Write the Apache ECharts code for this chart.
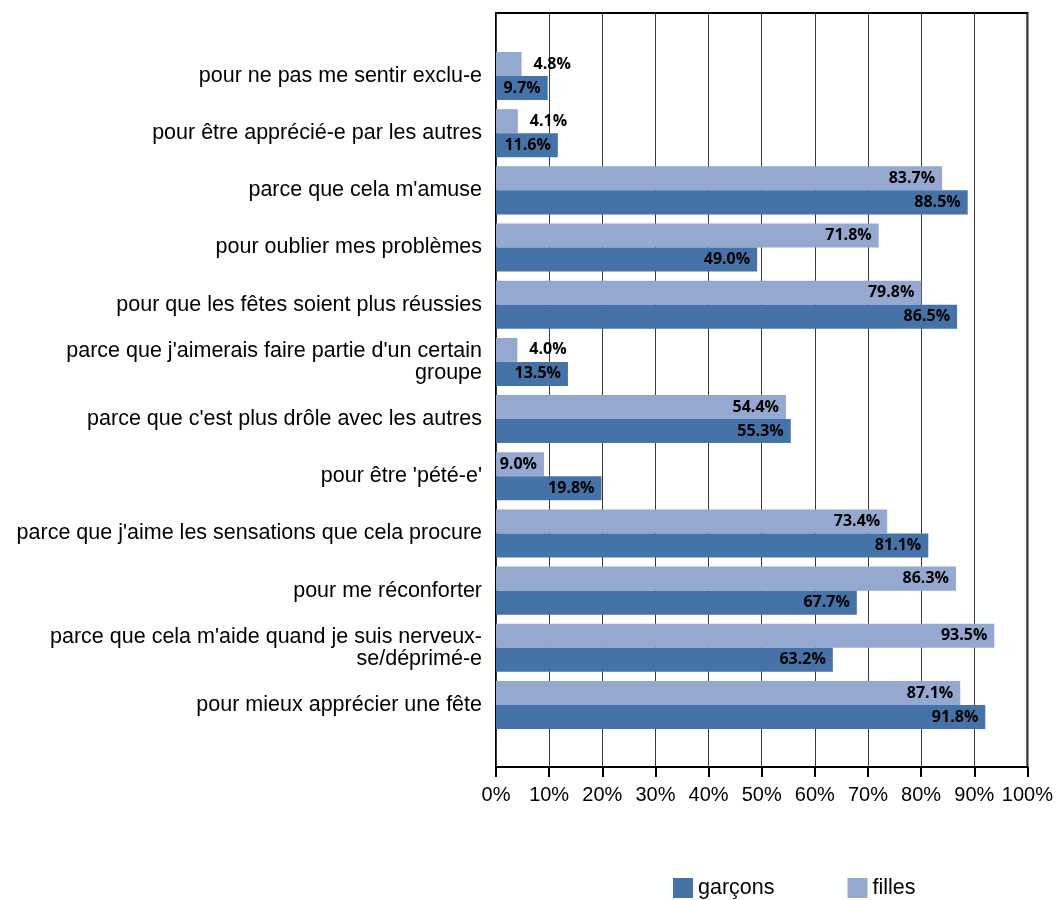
<!DOCTYPE html>
<html>
<head>
<meta charset="utf-8">
<script src="https://cdn.jsdelivr.net/npm/echarts@6/dist/echarts.min.js"></script>
<style>
  html, body { margin: 0; padding: 0; background: #fff; }
  #chart { width: 1056px; height: 900px; }
</style>
</head>
<body>
<div id="chart"></div>
<script>
// catégories, de haut en bas
var categories = [
  "pour ne pas me sentir exclu-e",
  "pour être apprécié-e par les autres",
  "parce que cela m'amuse",
  "pour oublier mes problèmes",
  "pour que les fêtes soient plus réussies",
  "parce que j'aimerais faire partie d'un certain\ngroupe",
  "parce que c'est plus drôle avec les autres",
  "pour être 'pété-e'",
  "parce que j'aime les sensations que cela procure",
  "pour me réconforter",
  "parce que cela m'aide quand je suis nerveux-\nse/déprimé-e",
  "pour mieux apprécier une fête"
];
var garcons = [9.7, 11.6, 88.5, 49.0, 86.5, 13.5, 55.3, 19.8, 81.1, 67.7, 63.2, 91.8];
var filles  = [4.8, 4.1, 83.7, 71.8, 79.8, 4.0, 54.4, 9.0, 73.4, 86.3, 93.5, 87.1];
var xTicks = [0, 10, 20, 30, 40, 50, 60, 70, 80, 90, 100];

var TXT = "'Liberation Sans', Arial, sans-serif";

// petites valeurs : étiquette à droite de la barre
function barData(arr) {
  return arr.map(function (v) {
    if (v < 5) {
      return { value: v, label: { position: 'right', distance: 12 } };
    }
    return v;
  });
}

var labelStyle = {
  show: true,
  position: 'insideRight',
  distance: 7,
  color: '#000',
  fontFamily: "'Open Sans', sans-serif",
  fontWeight: 'bold',
  fontSize: 16,
  formatter: function (p) { return p.value.toFixed(1) + '%'; }
};

var chart = echarts.init(document.getElementById('chart'));
chart.setOption({
  animation: false,
  backgroundColor: '#fff',
  legend: {
    data: ['garçons', 'filles'],
    left: 673,
    top: 877,
    padding: 0,
    icon: 'rect',
    itemWidth: 20,
    itemHeight: 20,
    itemGap: 73,
    textStyle: { fontFamily: TXT, fontSize: 21.5, color: '#000' }
  },
  grid: [
    // cadre + quadrillage
    { left: 496, right: 27, top: 13, bottom: 133, show: true,
      borderColor: '#000', borderWidth: 2, backgroundColor: 'transparent' },
    // barres
    { left: 496, right: 27, top: 47.4, bottom: 166.4 }
  ],
  xAxis: [
    {
      gridIndex: 0, type: 'value', min: 0, max: 100, interval: 10,
      axisLine: { show: true, lineStyle: { color: '#000', width: 2 } },
      axisTick: { show: true, length: 10, lineStyle: { color: '#000', width: 2 } },
      splitLine: { show: true, lineStyle: { color: '#3a3a3a', width: 1 } },
      axisLabel: {
        margin: 18, color: '#000', fontFamily: TXT, fontSize: 20,
        formatter: function (v) { return xTicks.indexOf(v) >= 0 ? v + '%' : ''; }
      }
    },
    { gridIndex: 1, type: 'value', min: 0, max: 100, show: false }
  ],
  yAxis: [
    { gridIndex: 0, type: 'value', show: false },
    {
      gridIndex: 1, type: 'category', inverse: true, data: categories,
      axisLine: { show: false }, axisTick: { show: false },
      axisLabel: {
        margin: 14, color: '#000', fontFamily: TXT, fontSize: 21.5,
        lineHeight: 22, align: 'right', padding: [6, 0, 0, 0]
      }
    }
  ],
  series: [
    {
      name: 'filles', type: 'bar', xAxisIndex: 1, yAxisIndex: 1,
      data: barData(filles), itemStyle: { color: '#95A9D0' },
      barGap: '0%', barCategoryGap: '16%', label: labelStyle
    },
    {
      name: 'garçons', type: 'bar', xAxisIndex: 1, yAxisIndex: 1,
      data: barData(garcons), itemStyle: { color: '#4573A8' },
      barGap: '0%', barCategoryGap: '16%', label: labelStyle
    }
  ]
});
</script>
</body>
</html>
